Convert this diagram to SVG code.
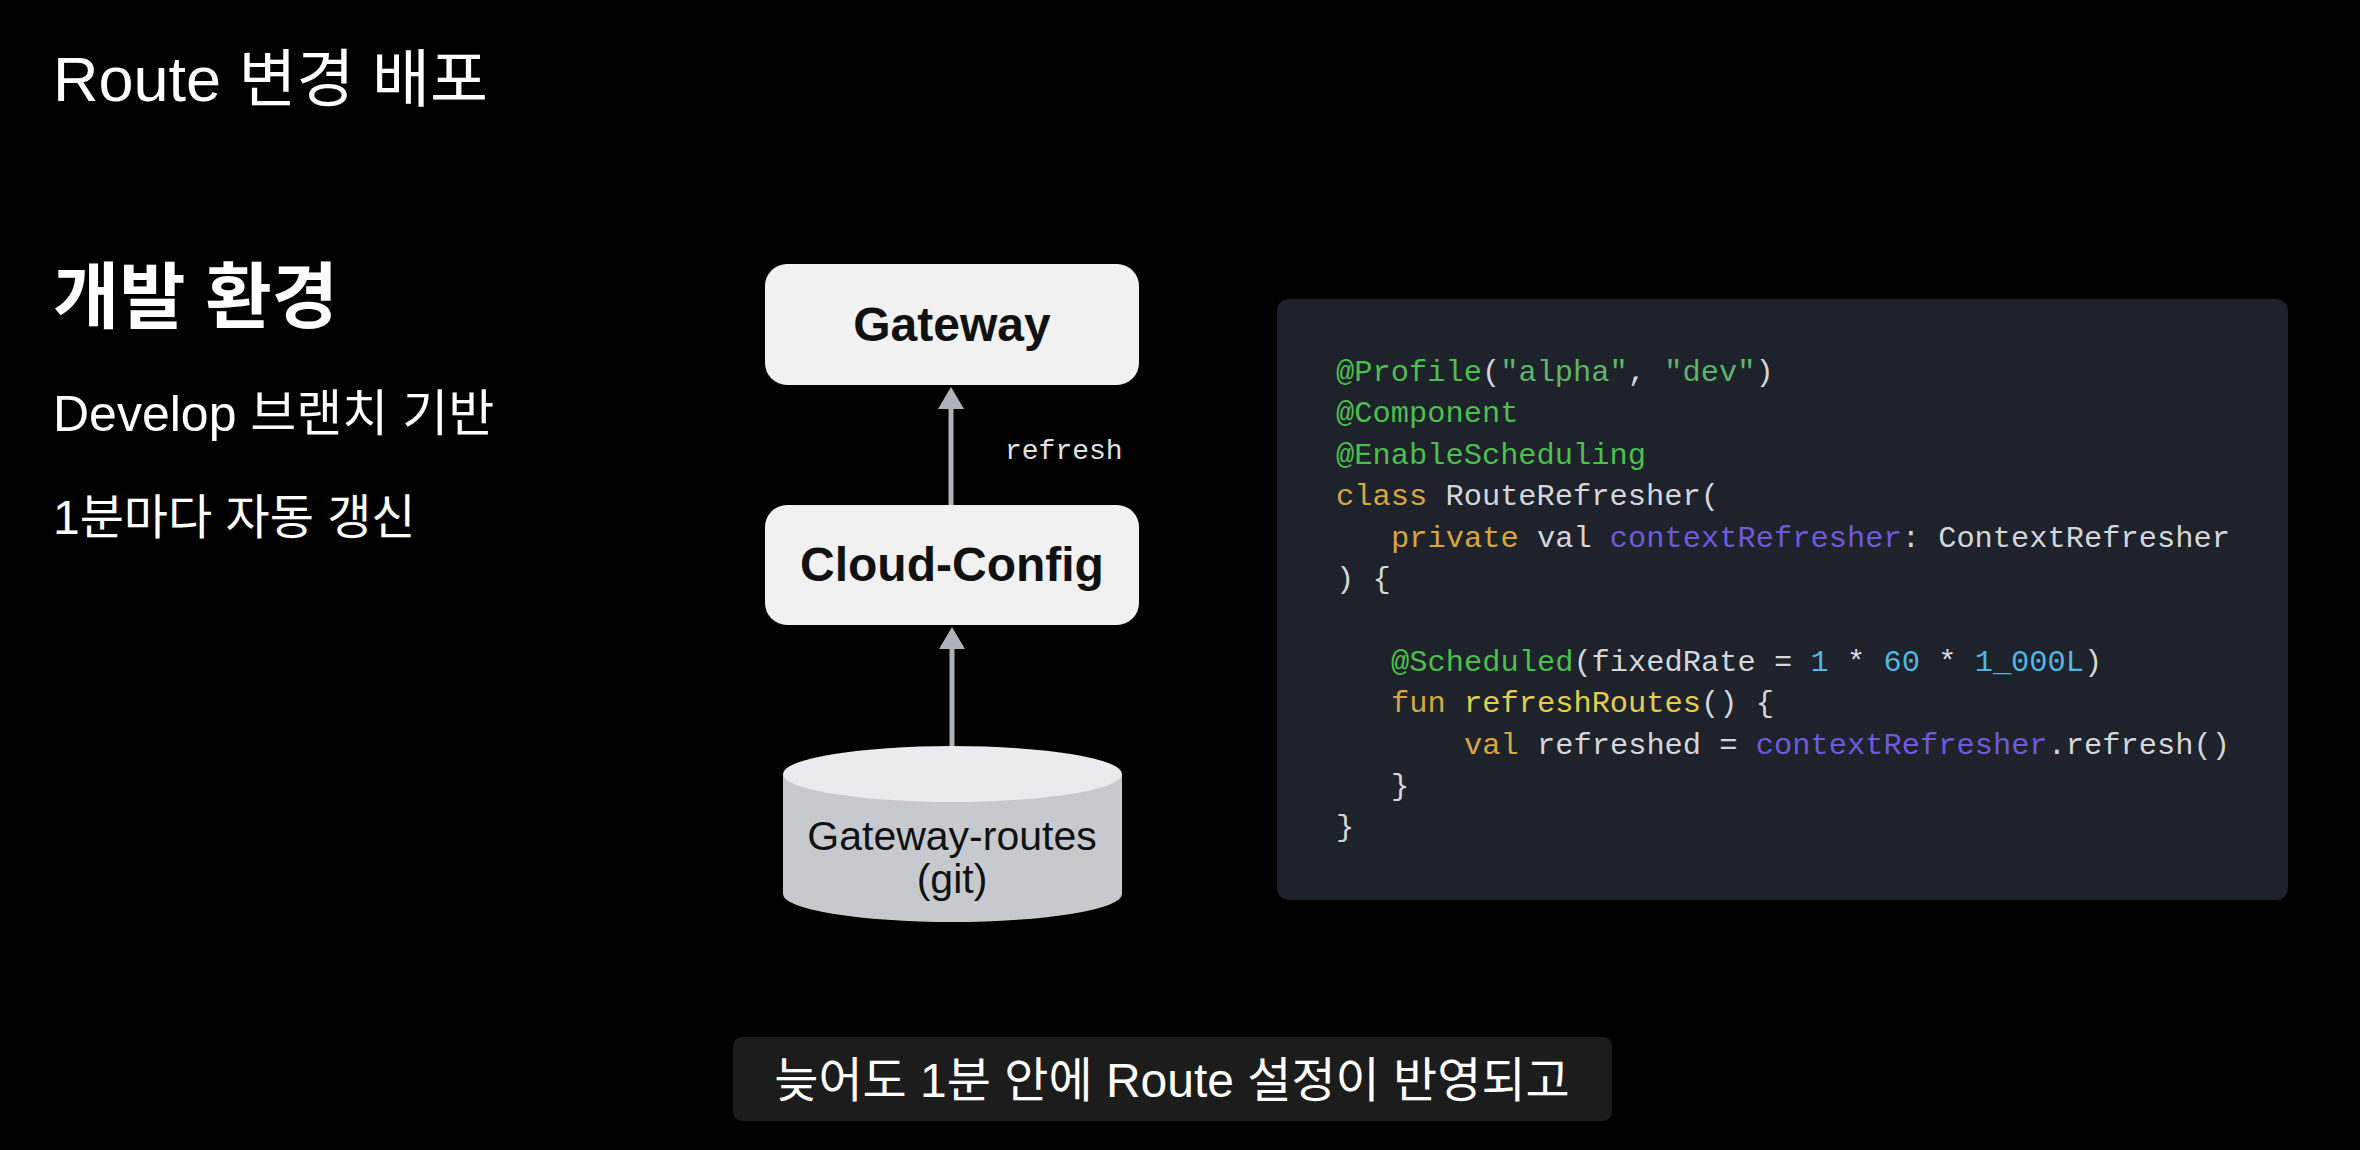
<svg xmlns="http://www.w3.org/2000/svg" width="2360" height="1150" viewBox="0 0 2360 1150">
<style>
.ko{font-family:"Liberation Sans","Noto Sans CJK KR",sans-serif;fill:#ffffff}
.node{fill:#f1f1f2}
.nlabel{font-family:"Liberation Sans","Noto Sans CJK KR",sans-serif;font-weight:700;font-size:48px;fill:#111111;text-anchor:middle}
.clabel{font-family:"Liberation Sans","Noto Sans CJK KR",sans-serif;font-size:41px;fill:#111111;text-anchor:middle}
.edge{stroke:#aeb3b9;stroke-width:5;fill:none}
.code{font-family:"Liberation Mono","DejaVu Sans Mono",monospace;font-size:30.4px;fill:#d4d6da}
.an{fill:#4cbf4c}.st{fill:#5fb46a}.kw{fill:#d9a53e}.pu{fill:#6d5bdc}.fn{fill:#e2cf4a}.nu{fill:#52b6e0}
</style>
<rect x="0" y="0" width="2360" height="1150" fill="#000000"/>

<g id="left-text">
<text class="ko" x="53" y="101" font-size="63">Route 변경 배포</text>
<text class="ko" x="53" y="322" font-size="72" font-weight="700">개발 환경</text>
<text class="ko" x="53" y="431" font-size="50">Develop 브랜치 기반</text>
<text class="ko" x="53" y="534" font-size="48">1분마다 자동 갱신</text>
</g>

<g id="connectors">
<line class="edge" x1="951" y1="505" x2="951" y2="408"/>
<path d="M938,409 L951,387 L964,409 Z" fill="#aeb3b9"/>
<line class="edge" x1="952" y1="746" x2="952" y2="648"/>
<path d="M939,649 L952,627 L965,649 Z" fill="#aeb3b9"/>
<text x="1005" y="459" font-family="'Liberation Mono','DejaVu Sans Mono',monospace" font-size="28" fill="#e2e2e2">refresh</text>
</g>

<g id="gateway">
<rect class="node" x="765" y="264" width="374" height="121" rx="22"/>
<text class="nlabel" x="952" y="341">Gateway</text>
</g>

<g id="cloud-config">
<rect class="node" x="765" y="505" width="374" height="120" rx="22"/>
<text class="nlabel" x="952" y="581">Cloud-Config</text>
</g>

<g id="gateway-routes">
<path d="M783,774 L783,894 A169.5,28 0 0 0 1122,894 L1122,774 Z" fill="#c6cacf"/>
<ellipse cx="952.5" cy="774" rx="169.5" ry="28" fill="#e9ebee"/>
<text class="clabel" x="952" y="850">Gateway-routes</text>
<text class="clabel" x="952" y="893">(git)</text>
</g>

<g id="code-panel">
<rect x="1277" y="299" width="1011" height="601" rx="12" fill="#1d222b"/>
<text class="code" xml:space="preserve" x="1336" y="381"><tspan class="an">@Profile</tspan>(<tspan class="st">"alpha"</tspan>, <tspan class="st">"dev"</tspan>)</text>
<text class="code" x="1336" y="422.4"><tspan class="an">@Component</tspan></text>
<text class="code" x="1336" y="463.8"><tspan class="an">@EnableScheduling</tspan></text>
<text class="code" xml:space="preserve" x="1336" y="505.2"><tspan class="kw">class</tspan> RouteRefresher(</text>
<text class="code" xml:space="preserve" x="1391" y="546.6"><tspan class="kw">private</tspan> val <tspan class="pu">contextRefresher</tspan>: ContextRefresher</text>
<text class="code" xml:space="preserve" x="1336" y="588">) {</text>
<text class="code" xml:space="preserve" x="1391" y="670.8"><tspan class="an">@Scheduled</tspan>(fixedRate = <tspan class="nu">1</tspan> * <tspan class="nu">60</tspan> * <tspan class="nu">1_000L</tspan>)</text>
<text class="code" xml:space="preserve" x="1391" y="712.2"><tspan class="kw">fun</tspan> <tspan class="fn">refreshRoutes</tspan>() {</text>
<text class="code" xml:space="preserve" x="1464" y="753.6"><tspan class="kw">val</tspan> refreshed = <tspan class="pu">contextRefresher</tspan>.refresh()</text>
<text class="code" x="1391" y="795">}</text>
<text class="code" x="1336" y="836.4">}</text>
</g>

<g id="caption">
<rect x="733" y="1037" width="879" height="84" rx="9" fill="#1c1c1c"/>
<text class="ko" x="1172" y="1097" font-size="48" text-anchor="middle">늦어도 1분 안에 Route 설정이 반영되고</text>
</g>
</svg>
